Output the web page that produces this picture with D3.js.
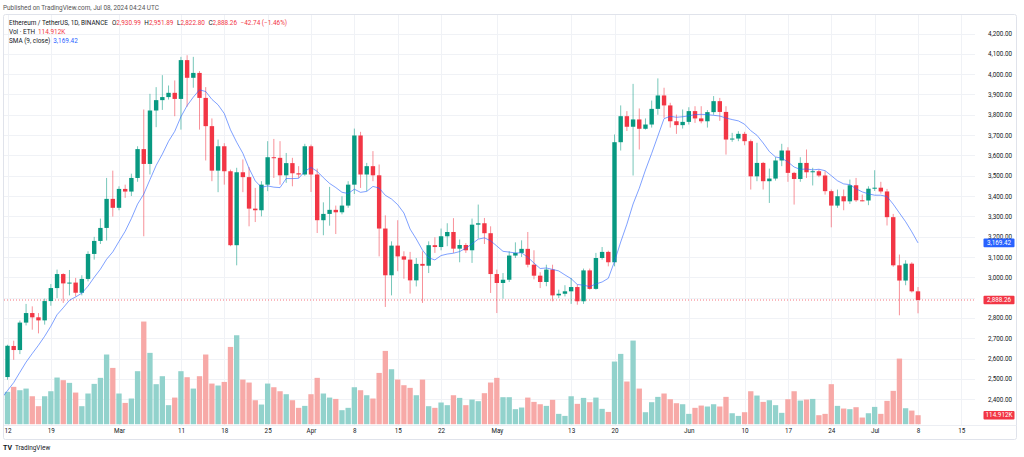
<!DOCTYPE html>
<html>
<head>
<meta charset="utf-8">
<script src="https://cdn.jsdelivr.net/npm/d3@7"></script>
<style>
  body { margin: 0; background: #fff; }
  svg { display: block; font-family: Roboto, "DejaVu Sans", sans-serif; }
</style>
</head>
<body>
<svg id="chart" width="1024" height="457"></svg>
<script>
// ETH / USDT daily candles, Feb 12 -> Jul 8 2024 (one value per day)
const firstDay = "2024-02-12";

const opens = [
  2509, 2662, 2642, 2777, 2824, 2803, 2788, 2883, 2947, 3016, 2970, 2974, 2924, 2992,
  3115, 3179, 3243, 3386, 3342, 3435, 3422, 3489, 3631, 3558, 3821, 3872, 3887, 3908,
  3878, 4069, 3982, 4006, 3883, 3744, 3525, 3645, 3522, 3158, 3517, 3493, 3338, 3330,
  3456, 3591, 3588, 3502, 3562, 3512, 3506, 3645, 3506, 3281, 3312, 3332, 3320, 3353,
  3456, 3698, 3506, 3547, 3502, 3240, 3010, 3156, 3103, 3087, 2985, 3066, 3057, 3158,
  3149, 3202, 3223, 3141, 3159, 3133, 3259, 3266, 3217, 3016, 2972, 2988, 3107, 3120,
  3140, 3062, 3008, 2977, 3038, 2911, 2919, 2931, 2952, 2882, 3034, 2943, 3095, 3125,
  3074, 3665, 3793, 3741, 3777, 3731, 3752, 3829, 3895, 3846, 3768, 3749, 3765, 3818,
  3782, 3768, 3813, 3867, 3814, 3678, 3683, 3706, 3670, 3497, 3563, 3473, 3486, 3575,
  3624, 3514, 3484, 3563, 3517, 3522, 3501, 3424, 3353, 3399, 3374, 3453, 3379, 3378,
  3436, 3441, 3422.53, 3296, 3059, 2984, 3067, 2930.99
];
const highs = [
  2668, 2688, 2787, 2869, 2857, 2824, 2895, 2967, 3038, 3020, 3036, 2997, 3010, 3128,
  3199, 3289, 3489, 3525, 3448, 3456, 3510, 3645, 3826, 3903, 3936, 3995, 3944, 3969,
  4085, 4093, 4085, 4015, 3936, 3782, 3678, 3660, 3530, 3539, 3580, 3542, 3440, 3473,
  3670, 3681, 3670, 3612, 3588, 3547, 3657, 3653, 3535, 3369, 3445, 3353, 3399, 3473,
  3732, 3716, 3563, 3621, 3555, 3305, 3177, 3281, 3128, 3125, 3095, 3128, 3177, 3197,
  3240, 3266, 3291, 3186, 3168, 3289, 3358, 3292, 3251, 3038, 3021, 3128, 3172, 3182,
  3223, 3133, 3025, 3062, 3062, 2939, 2961, 2997, 2964, 3043, 3043, 3120, 3149, 3131,
  3703, 3846, 3818, 3952, 3831, 3782, 3870, 3979, 3933, 3859, 3801, 3826, 3837, 3842,
  3842, 3823, 3892, 3883, 3842, 3711, 3719, 3716, 3678, 3662, 3568, 3535, 3591, 3657,
  3640, 3519, 3591, 3629, 3539, 3530, 3522, 3432, 3432, 3432, 3481, 3489, 3407, 3448,
  3527, 3470, 3435, 3312, 3112, 3084, 3074, 2951.89
];
const lows = [
  2496, 2594, 2622, 2763, 2742, 2724, 2767, 2860, 2898, 2874, 2911, 2906, 2911, 2980,
  3087, 3164, 3181, 3299, 3330, 3391, 3400, 3470, 3202, 3506, 3739, 3824, 3875, 3793,
  3727, 3840, 3933, 3727, 3575, 3473, 3419, 3456, 3153, 3059, 3419, 3251, 3272, 3300,
  3424, 3489, 3456, 3465, 3448, 3489, 3500, 3420, 3218, 3207, 3254, 3213, 3310, 3342,
  3410, 3440, 3424, 3473, 3103, 2854, 2911, 3030, 2993, 2920, 2955, 2874, 3021, 3120,
  3133, 3153, 3120, 3074, 3120, 3071, 3191, 3164, 2923, 2824, 2895, 2977, 3095, 3100,
  3049, 2990, 2947, 2956, 2882, 2898, 2906, 2869, 2865, 2869, 2939, 2939, 3087, 3054,
  3054, 3624, 3720, 3501, 3629, 3727, 3737, 3800, 3785, 3737, 3706, 3732, 3752, 3760,
  3758, 3737, 3800, 3770, 3604, 3667, 3670, 3650, 3432, 3473, 3432, 3366, 3476, 3547,
  3470, 3358, 3470, 3489, 3452, 3493, 3407, 3246, 3342, 3330, 3361, 3371, 3374, 3355,
  3425, 3412, 3255, 3052, 2813, 2961, 2925, 2822.80
];
const closes = [
  2663, 2642, 2777, 2824, 2803, 2788, 2883, 2947, 3016, 2970, 2974, 2924, 2992, 3115,
  3179, 3243, 3386, 3342, 3435, 3422, 3489, 3631, 3558, 3821, 3872, 3887, 3908, 3878,
  4069, 3982, 4006, 3883, 3744, 3525, 3645, 3522, 3158, 3517, 3493, 3338, 3330, 3456,
  3591, 3588, 3502, 3562, 3512, 3506, 3645, 3506, 3281, 3312, 3332, 3320, 3353, 3456,
  3698, 3506, 3547, 3502, 3240, 3010, 3156, 3103, 3087, 2985, 3066, 3057, 3158, 3149,
  3202, 3223, 3141, 3159, 3133, 3259, 3266, 3217, 3016, 2972, 2988, 3107, 3120, 3140,
  3062, 3008, 2977, 3038, 2911, 2919, 2931, 2952, 2882, 3034, 2943, 3095, 3125, 3074,
  3665, 3793, 3741, 3777, 3731, 3752, 3829, 3895, 3846, 3768, 3749, 3765, 3818, 3782,
  3768, 3813, 3867, 3814, 3678, 3683, 3706, 3670, 3497, 3563, 3473, 3486, 3575, 3624,
  3514, 3484, 3563, 3517, 3522, 3501, 3424, 3353, 3399, 3374, 3453, 3379, 3378, 3436,
  3441, 3422.53, 3296, 3059, 2984, 3067, 2930.99, 2888.26
];
// volume in thousands of ETH
const volumes = [
  413, 477, 434, 455, 357, 230, 357, 421, 596, 562, 528, 404, 230, 392,
  515, 592, 890, 719, 392, 272, 328, 677, 1311, 911, 511, 613, 243, 340,
  677, 600, 455, 613, 890, 519, 494, 540, 987, 1136, 570, 532, 306, 251,
  519, 472, 421, 383, 306, 209, 234, 383, 592, 392, 340, 323, 179, 209,
  472, 434, 370, 328, 655, 936, 702, 570, 498, 464, 370, 570, 230, 209,
  277, 243, 370, 336, 243, 315, 294, 396, 532, 592, 345, 345, 192, 213,
  340, 285, 255, 234, 311, 132, 106, 357, 260, 336, 281, 340, 196, 157,
  800, 898, 545, 1068, 455, 153, 281, 349, 392, 319, 268, 255, 132, 209,
  238, 226, 255, 226, 349, 140, 106, 153, 421, 366, 285, 306, 243, 145,
  319, 421, 302, 315, 323, 115, 132, 511, 234, 200, 192, 217, 85, 140,
  221, 132, 298, 426, 838, 204, 174, 114.912
];
// closes of the 9 days before the first visible candle (feed the SMA start)
const priorCloses = [2297, 2290, 2321, 2373, 2423, 2420, 2486, 2502, 2506];

const priceTicks = [2400, 2500, 2600, 2700, 2800, 2900, 3000, 3100, 3200, 3300,
  3400, 3500, 3600, 3700, 3800, 3900, 4000, 4100, 4200];
const timeTicks = ["2024-02-12", "2024-02-19", "2024-03-01", "2024-03-11", "2024-03-18",
  "2024-03-25", "2024-04-01", "2024-04-08", "2024-04-15", "2024-04-22", "2024-05-01",
  "2024-05-13", "2024-05-20", "2024-06-01", "2024-06-10", "2024-06-17", "2024-06-24",
  "2024-07-01", "2024-07-08", "2024-07-15"];
const timeTickLabels = ["12", "19", "Mar", "11", "18", "25", "Apr", "8", "15", "22",
  "May", "13", "20", "Jun", "10", "17", "24", "Jul", "8", "15"];

const lastPrice = 2888.26;
const lastSma = 3169.42;
const lastVolumeLabel = "114.912K";

// colours
const UP = "#089981", DOWN = "#f23645";
const VOL_UP = "#92d2cc", VOL_DOWN = "#f7a9a7";
const SMA_COL = "#2962ff";
const TEXT = "#131722";
const GRID = "#f0f2f6";

const parse = d3.utcParse("%Y-%m-%d");
const day0 = parse(firstDay);
const days = closes.map((c, i) => d3.utcDay.offset(day0, i));

const data = days.map((d, i) => ({
  date: d, o: opens[i], h: highs[i], l: lows[i], c: closes[i], v: volumes[i]
}));

// 9-period simple moving average of close
const allCloses = priorCloses.concat(closes);
const smaData = [];
for (let i = -1; i < closes.length; i++) {
  const end = i + priorCloses.length + 1;
  const win = allCloses.slice(end - 9, end);
  smaData.push({ date: d3.utcDay.offset(day0, i), v: d3.mean(win) });
}

// layout
const plot = { left: 4, right: 975, top: 15, bottom: 425 };

const svg = d3.select("#chart");

const x = d3.scaleUtc()
  .domain([day0, days[days.length - 1]])
  .range([7.5, 918]);

const y = d3.scaleLinear().domain([3000, 4200]).range([277.3, 33.5]);
const yVol = d3.scaleLinear().domain([0, 1000]).range([424.2, 345.9]);

const step = x(days[1]) - x(days[0]);
const bodyW = 4.4;
const volW = step * 0.86;

// header
svg.append("text")
  .attr("x", 3).attr("y", 9.5)
  .attr("font-size", 6.4).attr("fill", "#555")
  .text("Published on TradingView.com, Jul 08, 2024 04:24 UTC");

// frame
svg.append("rect")
  .attr("x", 3.5).attr("y", 14.5)
  .attr("width", 1013).attr("height", 425)
  .attr("rx", 2)
  .attr("fill", "#fff").attr("stroke", "#e0e3eb");

svg.append("defs").append("clipPath").attr("id", "plotclip")
  .append("rect")
  .attr("x", plot.left).attr("y", plot.top)
  .attr("width", plot.right - plot.left).attr("height", plot.bottom - plot.top);

// grid
const grid = svg.append("g");
grid.selectAll("line.h")
  .data(priceTicks)
  .enter().append("line")
  .attr("class", "h")
  .attr("x1", plot.left).attr("x2", plot.right)
  .attr("y1", (d) => Math.round(y(d)) + 0.5).attr("y2", (d) => Math.round(y(d)) + 0.5)
  .attr("stroke", GRID);
grid.selectAll("line.v")
  .data(timeTicks)
  .enter().append("line")
  .attr("class", "v")
  .attr("x1", (d) => Math.round(x(parse(d))) + 0.5).attr("x2", (d) => Math.round(x(parse(d))) + 0.5)
  .attr("y1", plot.top).attr("y2", plot.bottom)
  .attr("stroke", GRID);

const g = svg.append("g").attr("clip-path", "url(#plotclip)");

// volume bars
g.selectAll("rect.vol")
  .data(data)
  .enter().append("rect")
  .attr("class", "vol")
  .attr("x", (d) => x(d.date) - volW / 2)
  .attr("width", volW)
  .attr("y", (d) => yVol(d.v))
  .attr("height", (d) => yVol(0) - yVol(d.v))
  .attr("fill", (d) => (d.c >= d.o ? VOL_UP : VOL_DOWN));

// last price line
g.append("line")
  .attr("x1", plot.left).attr("x2", plot.right)
  .attr("y1", y(lastPrice)).attr("y2", y(lastPrice))
  .attr("stroke", DOWN).attr("stroke-opacity", 0.7)
  .attr("stroke-dasharray", "1,2");

// candles
const candles = g.selectAll("g.candle")
  .data(data)
  .enter().append("g")
  .attr("class", "candle");

candles.append("line")
  .attr("x1", (d) => x(d.date)).attr("x2", (d) => x(d.date))
  .attr("y1", (d) => y(d.h)).attr("y2", (d) => y(d.l))
  .attr("stroke", (d) => (d.c >= d.o ? UP : DOWN))
  .attr("stroke-opacity", 0.55)
  .attr("stroke-width", 1);

candles.append("rect")
  .attr("x", (d) => x(d.date) - bodyW / 2)
  .attr("width", bodyW)
  .attr("y", (d) => y(Math.max(d.o, d.c)))
  .attr("height", (d) => Math.max(1, Math.abs(y(d.o) - y(d.c))))
  .attr("fill", (d) => (d.c >= d.o ? UP : DOWN));

// SMA line
g.append("path")
  .datum(smaData)
  .attr("fill", "none")
  .attr("stroke", SMA_COL)
  .attr("stroke-opacity", 0.6)
  .attr("stroke-width", 1)
  .attr("d", d3.line().x((d) => x(d.date)).y((d) => y(d.v)));

// separator above the time scale
svg.append("line")
  .attr("x1", plot.left).attr("x2", 1016.5)
  .attr("y1", plot.bottom + 0.5).attr("y2", plot.bottom + 0.5)
  .attr("stroke", "#eceef3");

// value tags sit on the price scale; labels they fully cover are hidden
const tagYs = [y(lastSma), y(lastPrice)];
const visibleTicks = priceTicks.filter((p) => !tagYs.some((t) => Math.abs(y(p) - t) < 4));

const yAxis = d3.axisRight(y)
  .tickValues(visibleTicks)
  .tickFormat(d3.format(",.2f"))
  .tickSize(0)
  .tickPadding(0);

const yAxisG = svg.append("g")
  .attr("transform", "translate(988,0)")
  .call(yAxis);
yAxisG.select(".domain").remove();
yAxisG.selectAll("text")
  .attr("font-size", 6.3)
  .attr("font-family", "Roboto, sans-serif")
  .attr("fill", TEXT);

// time axis
const xAxis = d3.axisBottom(x)
  .tickValues(timeTicks.map(parse))
  .tickFormat((d, i) => timeTickLabels[i])
  .tickSize(0)
  .tickPadding(4);

const xAxisG = svg.append("g")
  .attr("transform", "translate(0," + plot.bottom + ")")
  .call(xAxis);
xAxisG.select(".domain").remove();
xAxisG.selectAll("text")
  .attr("font-size", 6.3)
  .attr("font-family", "Roboto, sans-serif")
  .attr("fill", TEXT);

function tag(yPos, color, label) {
  svg.append("rect")
    .attr("x", 983.5).attr("y", yPos - 4.3)
    .attr("width", 31).attr("height", 8.6)
    .attr("rx", 1)
    .attr("fill", color);
  svg.append("text")
    .attr("x", 999).attr("y", yPos)
    .attr("dy", "0.35em")
    .attr("text-anchor", "middle")
    .attr("font-size", 6.3)
    .attr("fill", "#fff")
    .text(label);
}
tag(y(lastSma), SMA_COL, d3.format(",.2f")(lastSma));
tag(y(lastPrice), DOWN, d3.format(",.2f")(lastPrice));
tag(yVol(volumes[volumes.length - 1]), DOWN, lastVolumeLabel);

// legend
const legend = svg.append("g").attr("font-size", 6.4);
const l1 = legend.append("text").attr("x", 9).attr("y", 24.5).attr("fill", TEXT);
l1.append("tspan").text("Ethereum / TetherUS, 1D, BINANCE");
[["O", "2,930.99"], ["H", "2,951.89"], ["L", "2,822.80"], ["C", "2,888.26"]].forEach((p, i) => {
  l1.append("tspan").attr("dx", i === 0 ? 4 : 3.5).attr("fill", TEXT).text(p[0]);
  l1.append("tspan").attr("fill", DOWN).text(p[1]);
});
l1.append("tspan").attr("dx", 3.5).attr("fill", DOWN).text("\u221242.74 (\u22121.46%)");

const l2 = legend.append("text").attr("x", 9).attr("y", 33.5).attr("fill", TEXT);
l2.append("tspan").text("Vol \u00b7 ETH");
l2.append("tspan").attr("dx", 3).attr("fill", DOWN).text(lastVolumeLabel);

const l3 = legend.append("text").attr("x", 9).attr("y", 42.5).attr("fill", TEXT);
l3.append("tspan").text("SMA (9, close)");
l3.append("tspan").attr("dx", 3).attr("fill", SMA_COL).text(d3.format(",.2f")(lastSma));

// footer logo
svg.append("text")
  .attr("x", 3).attr("y", 450)
  .attr("font-size", 7).attr("font-weight", "bold")
  .attr("fill", TEXT)
  .text("TV");
svg.append("text")
  .attr("x", 15).attr("y", 450)
  .attr("font-size", 6.4)
  .attr("fill", TEXT)
  .text("TradingView");
</script>
</body>
</html>
